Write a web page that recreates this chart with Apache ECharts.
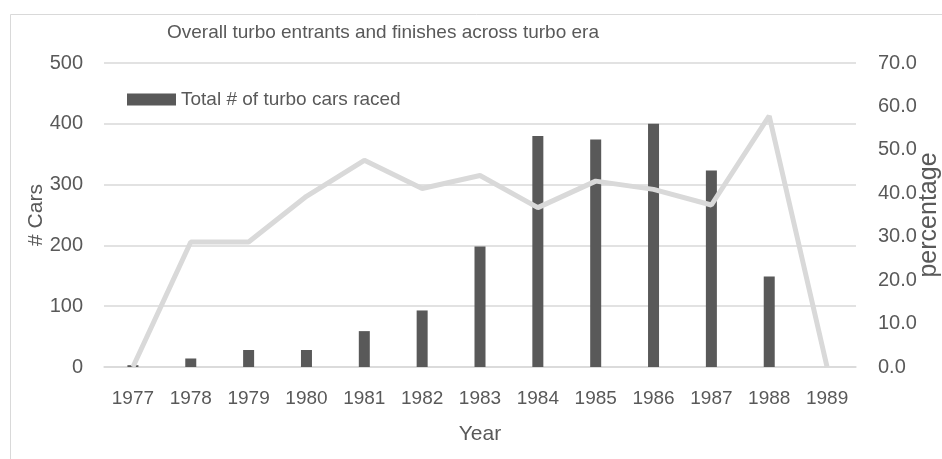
<!DOCTYPE html>
<html>
<head>
<meta charset="utf-8">
<script src="https://cdn.jsdelivr.net/npm/echarts@6/dist/echarts.min.js"></script>
<style>
html,body{margin:0;padding:0;background:#fff;}
#c{width:942px;height:459px;}
</style>
</head>
<body>
<div id="c"></div>
<script>
var years = ['1977','1978','1979','1980','1981','1982','1983','1984','1985','1986','1987','1988','1989'];
var turboCars = [3, 14, 28, 28, 59, 93, 198, 380, 374, 400, 323, 149, 0];
var finishPct = [0, 28.8, 28.8, 39.3, 47.6, 41.1, 44.1, 36.7, 42.8, 40.9, 37.3, 57.8, 0];
var leftTicks = [0, 100, 200, 300, 400, 500];
var rightTicks = [0, 10, 20, 30, 40, 50, 60, 70];

var font = 'Liberation Sans';
var chart = echarts.init(document.getElementById('c'), null, {renderer: 'canvas'});
chart.setOption({
  animation: false,
  backgroundColor: '#fff',
  graphic: [{
    type: 'rect', left: 8, top: 12,
    shape: {width: 960, height: 470},
    style: {fill: 'none', stroke: '#d9d9d9', lineWidth: 1},
    silent: true
  }],
  title: {
    text: 'Overall turbo entrants and finishes across turbo era',
    left: 162, top: 18,
    textStyle: {fontFamily: font, fontSize: 19, fontWeight: 'normal', color: '#595959'}
  },
  legend: {
    data: [{name: 'Total # of turbo cars raced', icon: 'rect'}],
    left: 122, top: 85,
    itemWidth: 49, itemHeight: 12, itemGap: 5,
    textStyle: {fontFamily: font, fontSize: 19, color: '#595959'}
  },
  grid: {left: 104, right: 86, top: 63, bottom: 92, containLabel: false, outerBoundsMode: 'none'},
  xAxis: {
    type: 'category', data: years,
    axisLine: {lineStyle: {color: '#d9d9d9', width: 1.5}},
    axisTick: {show: false},
    axisLabel: {fontFamily: font, fontSize: 19, color: '#595959', margin: 22},
    name: 'Year', nameLocation: 'middle', nameGap: 57, nameMoveOverlap: false,
    nameTextStyle: {fontFamily: font, fontSize: 21, color: '#595959'}
  },
  yAxis: [{
    type: 'value', min: 0, max: 500, interval: 100,
    axisLine: {show: false}, axisTick: {show: false},
    splitLine: {lineStyle: {color: '#d9d9d9', width: 1.5}},
    axisLabel: {fontFamily: font, fontSize: 20, color: '#595959', margin: 21,
      formatter: function(v){ return leftTicks.indexOf(v) >= 0 ? String(v) : ''; }},
    name: '# Cars', nameLocation: 'middle', nameGap: 57, nameRotate: 90, nameMoveOverlap: false,
    nameTextStyle: {fontFamily: font, fontSize: 21, color: '#595959'}
  }, {
    type: 'value', min: 0, max: 70, interval: 10, position: 'right',
    axisLine: {show: false}, axisTick: {show: false}, splitLine: {show: false},
    axisLabel: {fontFamily: font, fontSize: 20, color: '#595959', margin: 22,
      formatter: function(v){ return rightTicks.indexOf(v) >= 0 ? v.toFixed(1) : ''; }},
    name: 'percentage', nameLocation: 'middle', nameGap: 61, nameRotate: 90, nameMoveOverlap: false,
    nameTextStyle: {fontFamily: font, fontSize: 25, color: '#595959'}
  }],
  series: [{
    name: 'Total # of turbo cars raced',
    type: 'bar', data: turboCars, barWidth: 11,
    itemStyle: {color: '#595959'}
  }, {
    name: 'Finish percentage',
    type: 'line', yAxisIndex: 1, data: finishPct,
    showSymbol: false, symbol: 'none',
    lineStyle: {color: '#d9d9d9', width: 5},
    itemStyle: {color: '#d9d9d9'},
    z: 3
  }]
});
</script>
</body>
</html>
